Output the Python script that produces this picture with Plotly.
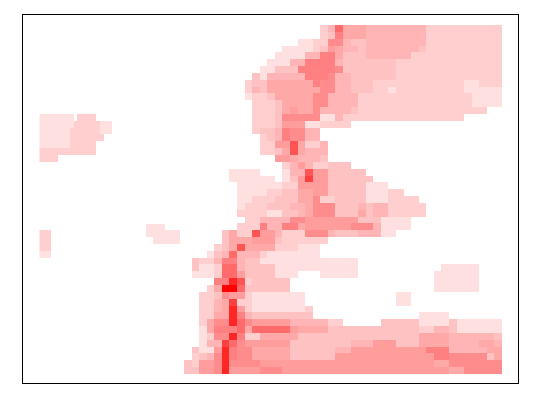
'''
    Pink density map: two heatmaps sharing one white-to-red scale.
'''
import plotly.graph_objects as go

# red intensity of each shade digit (0-d) used in the rows below
SHADES = [0, 0.12, 0.19, 0.24, 0.29, 0.34, 0.39, 0.45, 0.5, 0.58, 0.67, 0.75, 0.85, 1]

# main block, 42 columns per row, one hex-like digit per cell
MAIN_ROWS = [
    "000000000000000000" "249555" "44444444" "2222222222",
    "000000000000000000" "238555" "44444444" "2222222222",
    "000000000000000" "11" "2" "2" "77" "4" "33" "44444444" "2222222222",
    "0000000000000" "1111" "2" "3" "6" "5" "44" "3" "4444444" "3" "2222222222",
    "000000000000" "1111" "44" "88" "5" "333" "444444" "222222222222",
    "00000000000" "111" "44" "8888" "4" "3333333" "22222222222222",
    "0000000000" "11" "333" "8" "8888" "7" "3333333" "22222222222222",
    "000000000" "3" "1" "44444" "888" "7" "44" "333333" "22222222222222",
    "00000000" "2" "33" "555555" "8" "77" "44" "333" "222222222222" "11" "222",
    "00000000" "2" "4" "3" "555555" "5" "77" "44" "333" "22" "1" "222222222" "11111",
    "00000000" "1" "22" "3" "55555" "77" "4444" "222222222222222" "1111",
    "000000000" "2" "22" "3" "5555" "77" "4444" "222222222222222" "1111",
    "000000000" "222" "3" "5" "6" "55" "7" "4444" "3" "22222222222222222" "00",
    "000000000" "222" "3" "7777" "7" "11" "4" "2222222222222222" "00000",
    "000000000" "222" "3" "666" "11" "2222" "00000000000000000000",
    "000000000" "2" "33" "4" "8" "77" "44" "000000000000000000000000",
    "0000000000" "23" "4" "8" "77" "44" "000000000000000000000000",
    "0000000000" "22" "66" "a" "5" "22" "4" "00000000000000000000000",
    "0000000000" "22" "3" "5" "a" "5" "444" "00000000000000000000000",
    "000000000000" "66" "5" "444" "3" "00000000000000000000000",
    "0000000000000" "2" "4" "6" "4" "22" "333" "00000000000000000000",
    "000000" "1111" "000" "1" "44" "a" "66" "33333" "000000000000000000",
    "000000" "111111" "0" "1" "3" "6" "b" "66" "333333" "00000000000000000",
    "0000000" "111111" "22" "6666" "33333" "111" "000000000000000",
    "0000000" "1111" "22" "33" "55" "66" "33333" "111" "22" "0000000000000",
    "0000000" "11" "222" "333" "55" "7" "22" "3333" "111" "2222" "00000000000",
    "0000000" "1" "222" "333" "44" "5" "777" "333" "4" "3" "44" "22222" "0000000000",
    "0000000" "2222" "11" "33" "4" "5" "777" "333" "5" "3" "44" "22222" "0000000000",
    "00000000" "22" "4444" "77" "6666" "666" "333" "1111" "000000000000",
    "0000000" "222" "8" "44" "88" "5" "6666" "66" "777" "4" "1111" "000000000000",
    "00000" "3" "5" "22" "a" "66" "4" "222" "777" "4" "333" "444" "11" "00000000000000",
    "00000" "3" "5" "55" "666" "3" "222222" "00000000000000000000000",
    "0000" "2" "3" "5" "a" "5" "555" "222" "111" "000000000000000000000000",
    "000" "1" "3" "4" "9" "444" "2" "1111111" "000000000000000000000000",
    "0" "3" "22" "4" "88" "4" "33" "1111111" "111111" "0000000000000000000",
    "0" "3" "11" "2" "99" "4" "3333" "11111" "111111" "00000000000" "11111" "000",
    "0" "111" "2" "99" "6" "3333" "111" "000" "11111" "0000000000" "111111" "000",
    "0000" "88" "c" "a" "2" "33333" "0000000000000000000" "111111" "000",
    "000" "2" "5" "dd" "9" "3" "33333" "0000000000000000000" "111111" "000",
    "00" "22" "3" "7" "66" "2" "1111111" "000000000000" "11" "000000000000",
    "00" "22" "4" "5" "b" "22" "1111111" "000000000000" "11" "000000000000",
    "00" "22" "4" "5" "c" "6" "2" "1111111" "2" "0000000000000000000000000",
    "00" "22" "55" "c" "8" "4" "33333333" "00000000000000" "1111" "0000000",
    "00" "2" "5" "77" "c" "9" "7" "66666" "44444" "22" "00000" "33333" "1111" "3" "111111",
    "00" "1" "5" "888" "9" "5" "99999" "6" "5555" "333" "333333333" "22" "44" "3" "111111",
    "00" "1" "2" "77" "c" "8" "22" "55555" "3333333333333333" "5555" "4444" "44" "3",
    "00" "1" "44" "b" "9" "7" "666666" "33333333" "444" "666" "333" "5555" "4444" "55" "4",
    "0" "3" "11" "6" "c" "8" "77" "55555" "333333" "44" "6666666666" "8" "88" "4444" "4" "5" "5",
    "0" "2" "3" "4" "7" "c" "8" "77" "5" "5555" "333333" "666666666666" "6" "88" "77777" "3" "5",
    "3" "2" "66" "7" "c" "7777" "6666" "6666666666666666666" "55" "7777777",
    "33" "66" "7" "c" "6666" "777" "6666666666666666666666" "55" "77777",
]

# isolated patches on the left, drawn on half columns, padded to 38 cells
LEFT_ROWS = [
    "1111111110" "22222",
    "111111111" "2222222" "111",
    "11111111" "22222222" "111",
    "11111111" "222222222",
    "11111111" "2222222",
    "222222222222222",
    "22222",
    "", "", "", "", "", "", "", "", "",
    "0000000000000000000000000000" "11111",
    "222" "0000000000000000000000000" "111111111",
    "222" "000000000000000000000000000" "1111111",
    "222",
    "111",
]


def to_z(rows, width):
    '''
        Turns the rows of shade digits into heatmap values.
    '''
    return [[SHADES[int(c, 16)] for c in row.ljust(width, '0')] for row in rows]


fig = go.Figure()

fig.add_trace(go.Heatmap(
    z=to_z(MAIN_ROWS, 42),
    x0=19,
    dx=1,
    y0=0,
    dy=1,
    coloraxis='coloraxis',
    hoverinfo='skip'))

fig.add_trace(go.Heatmap(
    z=to_z(LEFT_ROWS, 38),
    x0=-0.338,
    dx=0.5,
    y0=13,
    dy=1,
    coloraxis='coloraxis',
    hoverinfo='skip'))

# the page adds its own margin, so the figure is a little smaller than the window
fig.update_layout(
    width=524,
    height=384,
    margin=dict(l=15, r=14, t=7, b=9),
    paper_bgcolor='white',
    plot_bgcolor='white',
    coloraxis=dict(
        cmin=0,
        cmax=1,
        colorscale=[[0, '#ffffff'], [1, '#ff0000']],
        showscale=False))

fig.update_xaxes(
    range=[-2.77, 62.62],
    showticklabels=False,
    ticks='',
    showgrid=False,
    zeroline=False,
    showline=True,
    mirror=True,
    linecolor='black',
    linewidth=1)
fig.update_yaxes(
    range=[51.84, -1.96],
    showticklabels=False,
    ticks='',
    showgrid=False,
    zeroline=False,
    showline=True,
    mirror=True,
    linecolor='black',
    linewidth=1)

fig.write_html("out.html")
